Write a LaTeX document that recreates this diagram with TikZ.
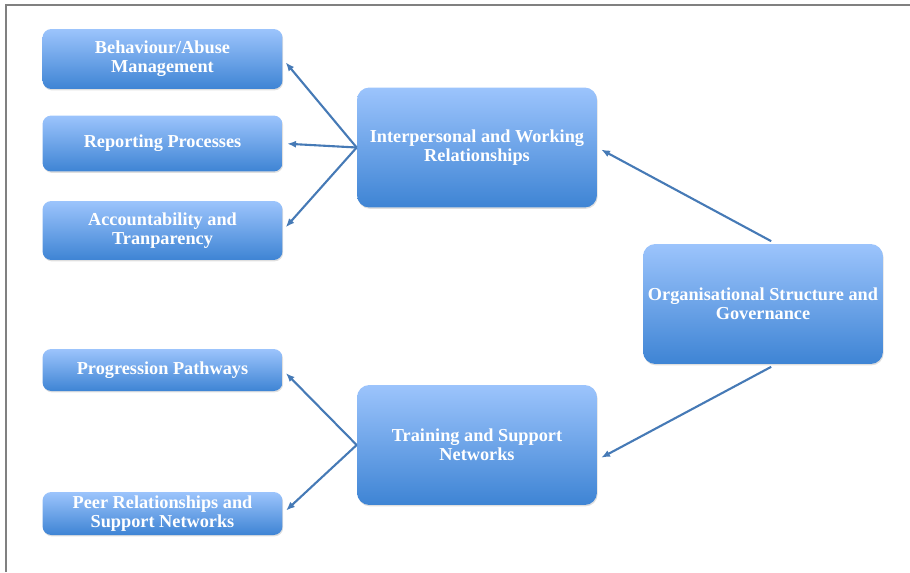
\documentclass[tikz,border=0pt]{standalone}
\usepackage{fontspec}
\setmainfont{Liberation Serif}
\usetikzlibrary{arrows.meta,shadows}

\definecolor{boxtop}{RGB}{156,196,252}
\definecolor{boxbot}{RGB}{62,132,212}
\definecolor{linkblue}{RGB}{70,122,182}

\tikzset{
  topic/.style={rounded corners=5pt, top color=boxtop, bottom color=boxbot,
    text=white, font=\fontsize{10.4}{10.8}\selectfont\bfseries, align=center,
    inner sep=0pt, minimum width=4.8cm,
    drop shadow={opacity=0.25, shadow xshift=0.4pt, shadow yshift=-0.8pt}},
  link/.style={-{Latex[length=5pt,width=4pt]}, linkblue, line width=1.2pt,
    shorten >=2.5pt}
}

\begin{document}
\begin{tikzpicture}[x=0.02cm, y=-0.02cm]
      \useasboundingbox (0,0) rectangle (910,572);
      % frame
      \draw[gray, line width=1.2pt] (6,572) -- (6,5) -- (910,5);
      % left column
      \node[topic, minimum height=1.2cm] (beh) at (162.5,59) {Behaviour/Abuse\\Management};
      \node[topic, minimum height=1.12cm] (rep) at (162.5,143.5) {Reporting Processes};
      \node[topic, minimum height=1.18cm] (acc) at (162.5,230.5) {Accountability and\\Tranparency};
      \node[topic, minimum height=0.84cm] (prog) at (162.5,370) {Progression Pathways};
      \node[topic, minimum height=0.86cm] (peer) at (162.5,513.5) {Peer Relationships and\\Support Networks};
      % middle and right
      \node[topic, minimum height=2.4cm, rounded corners=7pt] (ipr) at (477,147.5) {Interpersonal and Working\\Relationships};
      \node[topic, minimum height=2.4cm, rounded corners=7pt] (trn) at (477,445) {Training and Support\\Networks};
      \node[topic, minimum height=2.4cm, rounded corners=7pt] (org) at (763,304) {Organisational Structure and\\Governance};
      % links
      \draw[link] (ipr.west) -- (beh.east);
      \draw[link] (ipr.west) -- (rep.east);
      \draw[link] (ipr.west) -- (acc.east);
      \draw[link] (trn.west) -- (prog.east);
      \draw[link] (trn.west) -- (peer.east);
      \draw[link, shorten <=3pt] (org.78) -- (ipr.east);
      \draw[link, shorten <=3pt] (org.282) -- (trn.-7);
  \end{tikzpicture}
\end{document}
